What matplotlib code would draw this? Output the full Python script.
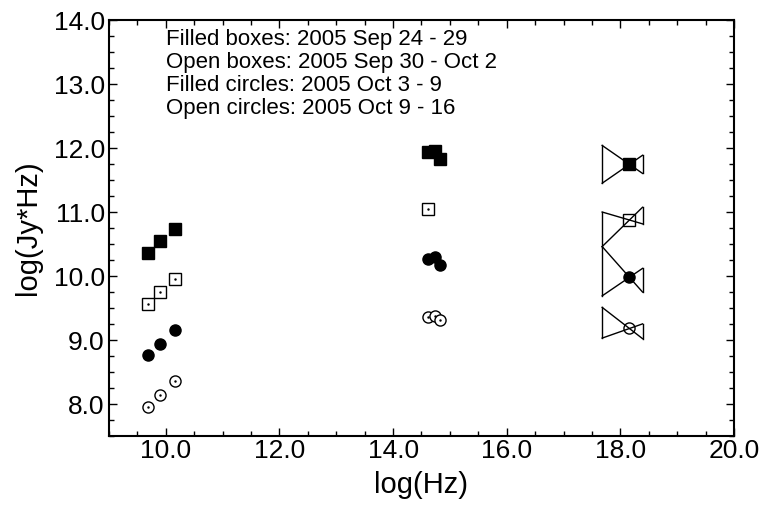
import numpy as np
import matplotlib
matplotlib.use('Agg')
import matplotlib.pyplot as plt
from matplotlib.ticker import MultipleLocator, FormatStrFormatter

plt.rcParams['font.family'] = ['Liberation Sans', 'DejaVu Sans']

# Radio (low frequency) points, one row per epoch
radio_x = [9.68, 9.90, 10.16]
radio_filled_box = [10.36, 10.54, 10.74]
radio_open_box = [9.57, 9.75, 9.95]
radio_filled_circ = [8.77, 8.94, 9.16]
radio_open_circ = [7.96, 8.14, 8.36]

# Optical points
opt_x = [14.62, 14.73, 14.83]
opt_filled_box = [11.93, 11.96, 11.83]
opt_open_box_x = [14.62]
opt_open_box = [11.05]
opt_filled_circ = [10.26, 10.29, 10.17]
opt_open_circ = [9.36, 9.37, 9.31]

# X-ray bow ties: pivot and the band edges at the low-frequency end
xray_x = 18.16
xray_lo, xray_hi = 17.68, 18.39
xray_pivot = [11.745, 10.875, 9.98, 9.18]
xray_left_top = [12.04, 11.00, 10.46, 9.51]
xray_left_bot = [11.45, 10.46, 9.69, 9.03]

legend_lines = [
    'Filled boxes: 2005 Sep 24 - 29',
    'Open boxes: 2005 Sep 30 - Oct 2',
    'Filled circles: 2005 Oct 3 - 9',
    'Open circles: 2005 Oct 9 - 16',
]

fig = plt.figure(figsize=(7.64, 5.12), dpi=100)
ax = fig.add_axes([0.1427, 0.1484, 0.818, 0.8125])

ms = 8


def open_dot(x, y, marker):
    ax.plot(x, y, marker, ls='none', ms=ms, mfc='white', mec='black', mew=1.0)
    ax.plot(x, y, '.', ls='none', ms=1.5, color='black')


ax.plot(radio_x, radio_filled_box, 's', ls='none', ms=ms + 1, color='black')
open_dot(radio_x, radio_open_box, 's')
ax.plot(radio_x, radio_filled_circ, 'o', ls='none', ms=ms, color='black')
open_dot(radio_x, radio_open_circ, 'o')

ax.plot(opt_x, opt_filled_box, 's', ls='none', ms=ms + 1, color='black')
open_dot(opt_open_box_x, opt_open_box, 's')
ax.plot(opt_x, opt_filled_circ, 'o', ls='none', ms=ms, color='black')
open_dot(opt_x, opt_open_circ, 'o')

# bow ties: two lines through the pivot plus the vertical edges
styles = [('s', 'full'), ('s', 'none'), ('o', 'full'), ('o', 'none')]
for yp, yt, yb, (mk, fill) in zip(xray_pivot, xray_left_top, xray_left_bot, styles):
    s_top = (yp - yt) / (xray_x - xray_lo)
    s_bot = (yp - yb) / (xray_x - xray_lo)
    r_top = yp + s_top * (xray_hi - xray_x)
    r_bot = yp + s_bot * (xray_hi - xray_x)
    ax.plot([xray_lo, xray_hi], [yt, r_top], color='black', lw=1.0)
    ax.plot([xray_lo, xray_hi], [yb, r_bot], color='black', lw=1.0)
    ax.plot([xray_lo, xray_lo], [yt, yb], color='black', lw=1.0)
    ax.plot([xray_hi, xray_hi], [r_top, r_bot], color='black', lw=1.0)
    ax.plot(xray_x, yp, mk, ms=ms + (1 if mk == 's' else 0), color='black',
            mew=1.0, zorder=5, fillstyle=fill)

ax.set_xlim(9.0, 20.0)
ax.set_ylim(7.5, 14.0)
ax.xaxis.set_major_locator(MultipleLocator(2.0))
ax.xaxis.set_minor_locator(MultipleLocator(0.5))
ax.yaxis.set_major_locator(MultipleLocator(1.0))
ax.yaxis.set_minor_locator(MultipleLocator(0.25))
ax.xaxis.set_major_formatter(FormatStrFormatter('%.1f'))
ax.yaxis.set_major_formatter(FormatStrFormatter('%.1f'))
ax.tick_params(which='both', direction='in', top=True, right=True, width=1.0)
ax.tick_params(which='major', length=6, labelsize=19)
ax.tick_params(axis='x', which='major', pad=2)
ax.tick_params(axis='y', which='major', pad=3)
ax.tick_params(which='minor', length=3.5)
for sp in ax.spines.values():
    sp.set_linewidth(1.5)

ax.set_xlabel('log(Hz)', fontsize=21, labelpad=6)
ax.set_ylabel('log(Jy*Hz)', fontsize=21, labelpad=8)

for i, line in enumerate(legend_lines):
    ax.text(10.0, 13.69 - i * 0.355, line, fontsize=16, va='center', ha='left')

fig.savefig('out.png', dpi=100)
